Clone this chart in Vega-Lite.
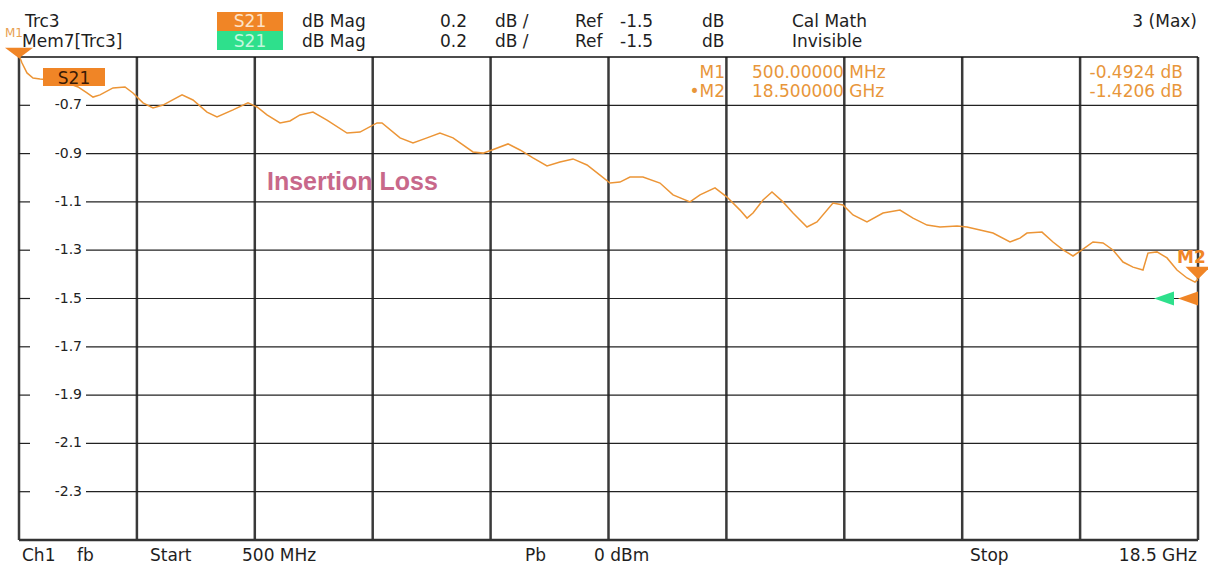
{
  "$schema": "https://vega.github.io/schema/vega-lite/v6.json",
  "width": 1179,
  "height": 483,
  "autosize": "none",
  "padding": {"left": 19, "top": 57, "right": 10, "bottom": 26},
  "background": "white",
  "config": {"view": {"stroke": null}, "axis": {"disable": true}, "font": "DejaVu Sans"},
  "data": {"values": [{}]},
  "layer": [
    {
      "data": {"values": [{"f": 0.5}, {"f": 2.3}, {"f": 4.1}, {"f": 5.9}, {"f": 7.7}, {"f": 9.5}, {"f": 11.3}, {"f": 13.1}, {"f": 14.9}, {"f": 16.7}, {"f": 18.5}]},
      "mark": {"type": "rule", "color": "#3a3a3a", "strokeWidth": 2.5},
      "encoding": {
        "x": {"field": "f", "type": "quantitative", "scale": {"domain": [0.5, 18.5], "nice": false, "zero": false}},
        "y": {"datum": -0.5, "scale": {"domain": [-2.5, -0.5], "nice": false, "zero": false}},
        "y2": {"datum": -2.5}
      }
    },
    {
      "data": {"values": [{"db": -0.7, "label": "-0.7"}, {"db": -0.9, "label": "-0.9"}, {"db": -1.1, "label": "-1.1"}, {"db": -1.3, "label": "-1.3"}, {"db": -1.5, "label": "-1.5"}, {"db": -1.7, "label": "-1.7"}, {"db": -1.9, "label": "-1.9"}, {"db": -2.1, "label": "-2.1"}, {"db": -2.3, "label": "-2.3"}]},
      "layer": [
        {"mark": {"type": "rule", "color": "#222222", "strokeWidth": 1.2}, "encoding": {"x": {"datum": 1.523}, "x2": {"datum": 18.5}, "y": {"field": "db", "type": "quantitative"}}},
        {"mark": {"type": "rule", "color": "#222222", "strokeWidth": 1.2}, "encoding": {"x": {"datum": 0.5}, "x2": {"datum": 0.668}, "y": {"field": "db", "type": "quantitative"}}},
        {"mark": {"type": "text", "align": "right", "baseline": "middle", "fontSize": 14, "color": "#222222"}, "encoding": {"x": {"datum": 1.462}, "y": {"field": "db", "type": "quantitative"}, "text": {"field": "label"}}}
      ]
    },
    {"mark": {"type": "rule", "color": "#111111", "strokeWidth": 1.3}, "encoding": {"x": {"datum": 0.5}, "x2": {"datum": 18.5}, "y": {"datum": -0.5}}},
    {"mark": {"type": "rule", "color": "#333333", "strokeWidth": 2.5}, "encoding": {"x": {"datum": 0.5}, "x2": {"datum": 18.5}, "y": {"datum": -2.5}}},
    {
      "data": {"values": [
        {"f": 0.5, "db": -0.4924}, {"f": 0.546, "db": -0.525}, {"f": 0.622, "db": -0.566}, {"f": 0.714, "db": -0.587}, {"f": 0.821, "db": -0.591},
        {"f": 0.973, "db": -0.595}, {"f": 1.202, "db": -0.604}, {"f": 1.401, "db": -0.624}, {"f": 1.538, "db": -0.649}, {"f": 1.63, "db": -0.666},
        {"f": 1.737, "db": -0.657}, {"f": 1.935, "db": -0.628}, {"f": 2.118, "db": -0.624}, {"f": 2.24, "db": -0.649}, {"f": 2.393, "db": -0.69},
        {"f": 2.546, "db": -0.711}, {"f": 2.698, "db": -0.699}, {"f": 2.989, "db": -0.657}, {"f": 3.156, "db": -0.678}, {"f": 3.37, "db": -0.728},
        {"f": 3.523, "db": -0.748}, {"f": 3.767, "db": -0.719}, {"f": 3.996, "db": -0.69}, {"f": 4.134, "db": -0.707}, {"f": 4.286, "db": -0.74},
        {"f": 4.485, "db": -0.773}, {"f": 4.637, "db": -0.765}, {"f": 4.79, "db": -0.74}, {"f": 4.988, "db": -0.728}, {"f": 5.202, "db": -0.761},
        {"f": 5.508, "db": -0.815}, {"f": 5.706, "db": -0.811}, {"f": 5.966, "db": -0.773}, {"f": 6.042, "db": -0.773}, {"f": 6.317, "db": -0.835},
        {"f": 6.515, "db": -0.856}, {"f": 6.729, "db": -0.835}, {"f": 6.927, "db": -0.815}, {"f": 7.126, "db": -0.835}, {"f": 7.431, "db": -0.893},
        {"f": 7.584, "db": -0.898}, {"f": 7.721, "db": -0.885}, {"f": 7.966, "db": -0.86}, {"f": 8.149, "db": -0.885}, {"f": 8.347, "db": -0.918},
        {"f": 8.561, "db": -0.951}, {"f": 8.759, "db": -0.935}, {"f": 8.958, "db": -0.922}, {"f": 9.172, "db": -0.947}, {"f": 9.37, "db": -0.989},
        {"f": 9.523, "db": -1.022}, {"f": 9.675, "db": -1.018}, {"f": 9.828, "db": -0.997}, {"f": 10.026, "db": -0.997}, {"f": 10.286, "db": -1.022},
        {"f": 10.485, "db": -1.071}, {"f": 10.744, "db": -1.1}, {"f": 10.897, "db": -1.071}, {"f": 11.126, "db": -1.042}, {"f": 11.309, "db": -1.08},
        {"f": 11.508, "db": -1.134}, {"f": 11.615, "db": -1.167}, {"f": 11.706, "db": -1.146}, {"f": 11.859, "db": -1.092}, {"f": 11.996, "db": -1.059},
        {"f": 12.164, "db": -1.1}, {"f": 12.317, "db": -1.146}, {"f": 12.53, "db": -1.204}, {"f": 12.683, "db": -1.183}, {"f": 12.927, "db": -1.105},
        {"f": 13.08, "db": -1.113}, {"f": 13.233, "db": -1.154}, {"f": 13.446, "db": -1.183}, {"f": 13.691, "db": -1.146}, {"f": 13.95, "db": -1.134},
        {"f": 14.149, "db": -1.167}, {"f": 14.363, "db": -1.196}, {"f": 14.561, "db": -1.204}, {"f": 14.821, "db": -1.2}, {"f": 14.973, "db": -1.204},
        {"f": 15.172, "db": -1.216}, {"f": 15.37, "db": -1.229}, {"f": 15.63, "db": -1.266}, {"f": 15.782, "db": -1.25}, {"f": 15.889, "db": -1.229},
        {"f": 16.118, "db": -1.225}, {"f": 16.286, "db": -1.266}, {"f": 16.439, "db": -1.299}, {"f": 16.592, "db": -1.324}, {"f": 16.729, "db": -1.299},
        {"f": 16.897, "db": -1.266}, {"f": 17.05, "db": -1.27}, {"f": 17.202, "db": -1.299}, {"f": 17.355, "db": -1.349}, {"f": 17.508, "db": -1.37},
        {"f": 17.66, "db": -1.382}, {"f": 17.736, "db": -1.312}, {"f": 17.874, "db": -1.307}, {"f": 18.027, "db": -1.332}, {"f": 18.179, "db": -1.382},
        {"f": 18.332, "db": -1.415}, {"f": 18.454, "db": -1.432}, {"f": 18.5, "db": -1.4206}
      ]},
      "mark": {"type": "line", "color": "#ec9536", "strokeWidth": 1.5},
      "encoding": {
        "x": {"field": "f", "type": "quantitative", "scale": {"domain": [0.5, 18.5], "nice": false, "zero": false}},
        "y": {"field": "db", "type": "quantitative", "scale": {"domain": [-2.5, -0.5], "nice": false, "zero": false}}
      }
    },
    {"mark": {"type": "rect", "color": "#f08526"}, "encoding": {"x": {"datum": 0.8664}, "x2": {"datum": 1.813}, "y": {"datum": -0.5455}, "y2": {"datum": -0.6201}}},
    {"mark": {"type": "text", "text": "S21", "align": "center", "baseline": "alphabetic", "fontSize": 17, "color": "#3a1a05"}, "encoding": {"x": {"datum": 1.3397}, "y": {"datum": -0.6118}}},
    {"mark": {"type": "rect", "color": "#f08526"}, "encoding": {"x": {"datum": 3.5229}, "x2": {"datum": 4.5305}, "y": {"datum": -0.3137}, "y2": {"datum": -0.3923}}},
    {"mark": {"type": "rect", "color": "#2ee08c"}, "encoding": {"x": {"datum": 3.5229}, "x2": {"datum": 4.5305}, "y": {"datum": -0.3923}, "y2": {"datum": -0.471}}},
    {"mark": {"type": "text", "text": "S21", "align": "center", "baseline": "alphabetic", "fontSize": 17, "color": "#fde3c8"}, "encoding": {"x": {"datum": 4.0267}, "y": {"datum": -0.3758}}},
    {"mark": {"type": "text", "text": "S21", "align": "center", "baseline": "alphabetic", "fontSize": 17, "color": "#c4f7dd"}, "encoding": {"x": {"datum": 4.0267}, "y": {"datum": -0.4586}}},
    {"mark": {"type": "text", "text": "M1", "align": "left", "baseline": "alphabetic", "fontSize": 12, "color": "#e8a050"}, "encoding": {"x": {"datum": 0.2863}, "y": {"datum": -0.4172}}},
    {"mark": {"type": "text", "text": "Trc3", "align": "left", "baseline": "alphabetic", "fontSize": 17, "color": "#1e1e1e"}, "encoding": {"x": {"datum": 0.5916}, "y": {"datum": -0.3758}}},
    {"mark": {"type": "text", "text": "Mem7[Trc3]", "align": "left", "baseline": "alphabetic", "fontSize": 17, "color": "#1e1e1e"}, "encoding": {"x": {"datum": 0.5458}, "y": {"datum": -0.4586}}},
    {
      "data": {"values": [{"row": -0.3758}, {"row": -0.4586}]},
      "layer": [
        {"mark": {"type": "text", "text": "dB Mag", "align": "left", "baseline": "alphabetic", "fontSize": 17, "color": "#1e1e1e"}, "encoding": {"x": {"datum": 4.8206}, "y": {"field": "row", "type": "quantitative"}}},
        {"mark": {"type": "text", "text": "0.2", "align": "left", "baseline": "alphabetic", "fontSize": 17, "color": "#1e1e1e"}, "encoding": {"x": {"datum": 6.9275}, "y": {"field": "row", "type": "quantitative"}}},
        {"mark": {"type": "text", "text": "dB /", "align": "left", "baseline": "alphabetic", "fontSize": 17, "color": "#1e1e1e"}, "encoding": {"x": {"datum": 7.7671}, "y": {"field": "row", "type": "quantitative"}}},
        {"mark": {"type": "text", "text": "Ref", "align": "left", "baseline": "alphabetic", "fontSize": 17, "color": "#1e1e1e"}, "encoding": {"x": {"datum": 8.9885}, "y": {"field": "row", "type": "quantitative"}}},
        {"mark": {"type": "text", "text": "-1.5", "align": "left", "baseline": "alphabetic", "fontSize": 17, "color": "#1e1e1e"}, "encoding": {"x": {"datum": 9.6755}, "y": {"field": "row", "type": "quantitative"}}},
        {"mark": {"type": "text", "text": "dB", "align": "left", "baseline": "alphabetic", "fontSize": 17, "color": "#1e1e1e"}, "encoding": {"x": {"datum": 10.9275}, "y": {"field": "row", "type": "quantitative"}}}
      ]
    },
    {"mark": {"type": "text", "text": "Cal Math", "align": "left", "baseline": "alphabetic", "fontSize": 17, "color": "#1e1e1e"}, "encoding": {"x": {"datum": 12.3015}, "y": {"datum": -0.3758}}},
    {"mark": {"type": "text", "text": "Invisible", "align": "left", "baseline": "alphabetic", "fontSize": 17, "color": "#1e1e1e"}, "encoding": {"x": {"datum": 12.3015}, "y": {"datum": -0.4586}}},
    {"mark": {"type": "text", "text": "3 (Max)", "align": "right", "baseline": "alphabetic", "fontSize": 17, "color": "#1e1e1e"}, "encoding": {"x": {"datum": 18.4847}, "y": {"datum": -0.3758}}},
    {"mark": {"type": "text", "text": "M1", "align": "right", "baseline": "alphabetic", "fontSize": 17, "color": "#e8963a"}, "encoding": {"x": {"datum": 11.2786}, "y": {"datum": -0.587}}},
    {"mark": {"type": "text", "text": "500.00000 MHz", "align": "left", "baseline": "alphabetic", "fontSize": 17, "color": "#e8963a"}, "encoding": {"x": {"datum": 11.6908}, "y": {"datum": -0.587}}},
    {"mark": {"type": "text", "text": "-0.4924 dB", "align": "right", "baseline": "alphabetic", "fontSize": 17, "color": "#e8963a"}, "encoding": {"x": {"datum": 18.2708}, "y": {"datum": -0.587}}},
    {"mark": {"type": "text", "text": "•M2", "align": "right", "baseline": "alphabetic", "fontSize": 17, "color": "#e8963a"}, "encoding": {"x": {"datum": 11.2786}, "y": {"datum": -0.6656}}},
    {"mark": {"type": "text", "text": "18.500000 GHz", "align": "left", "baseline": "alphabetic", "fontSize": 17, "color": "#e8963a"}, "encoding": {"x": {"datum": 11.6908}, "y": {"datum": -0.6656}}},
    {"mark": {"type": "text", "text": "-1.4206 dB", "align": "right", "baseline": "alphabetic", "fontSize": 17, "color": "#e8963a"}, "encoding": {"x": {"datum": 18.2708}, "y": {"datum": -0.6656}}},
    {"mark": {"type": "text", "text": "Insertion Loss", "align": "left", "baseline": "alphabetic", "fontSize": 25, "font": "Liberation Sans", "fontWeight": "bold", "color": "#c8688a"}, "encoding": {"x": {"datum": 4.2862}, "y": {"datum": -1.0507}}},
    {"mark": {"type": "point", "shape": "M-1,-0.37L1,-0.37L0,0.37Z", "filled": true, "size": 784, "color": "#f08526", "opacity": 1}, "encoding": {"x": {"datum": 0.5}, "y": {"datum": -0.4834}}},
    {"mark": {"type": "point", "shape": "M-1,-0.5L1,-0.5L0,0.5Z", "filled": true, "size": 625, "color": "#f08526", "opacity": 1}, "encoding": {"x": {"datum": 18.5}, "y": {"datum": -1.3944}}},
    {"mark": {"type": "text", "text": "M2", "align": "left", "baseline": "alphabetic", "fontSize": 17, "fontWeight": "bold", "color": "#f08526"}, "encoding": {"x": {"datum": 18.1794}, "y": {"datum": -1.353}}},
    {"mark": {"type": "point", "shape": "M-1,0L1,-0.7L1,0.7Z", "filled": true, "size": 400, "color": "#2ee08c", "opacity": 1}, "encoding": {"x": {"datum": 17.9809}, "y": {"datum": -1.5}}},
    {"mark": {"type": "point", "shape": "M-1,0L1,-0.7L1,0.7Z", "filled": true, "size": 400, "color": "#f08526", "opacity": 1}, "encoding": {"x": {"datum": 18.3473}, "y": {"datum": -1.5}}},
    {"mark": {"type": "text", "text": "Ch1", "align": "left", "baseline": "alphabetic", "fontSize": 17, "color": "#1e1e1e"}, "encoding": {"x": {"datum": 0.5458}, "y": {"datum": -2.587}}},
    {"mark": {"type": "text", "text": "fb", "align": "left", "baseline": "alphabetic", "fontSize": 17, "color": "#1e1e1e"}, "encoding": {"x": {"datum": 1.3855}, "y": {"datum": -2.587}}},
    {"mark": {"type": "text", "text": "Start", "align": "left", "baseline": "alphabetic", "fontSize": 17, "color": "#1e1e1e"}, "encoding": {"x": {"datum": 2.5}, "y": {"datum": -2.587}}},
    {"mark": {"type": "text", "text": "500 MHz", "align": "left", "baseline": "alphabetic", "fontSize": 17, "color": "#1e1e1e"}, "encoding": {"x": {"datum": 3.9046}, "y": {"datum": -2.587}}},
    {"mark": {"type": "text", "text": "Pb", "align": "left", "baseline": "alphabetic", "fontSize": 17, "color": "#1e1e1e"}, "encoding": {"x": {"datum": 8.2252}, "y": {"datum": -2.587}}},
    {"mark": {"type": "text", "text": "0 dBm", "align": "left", "baseline": "alphabetic", "fontSize": 17, "color": "#1e1e1e"}, "encoding": {"x": {"datum": 9.2786}, "y": {"datum": -2.587}}},
    {"mark": {"type": "text", "text": "Stop", "align": "left", "baseline": "alphabetic", "fontSize": 17, "color": "#1e1e1e"}, "encoding": {"x": {"datum": 15.019}, "y": {"datum": -2.587}}},
    {"mark": {"type": "text", "text": "18.5 GHz", "align": "right", "baseline": "alphabetic", "fontSize": 17, "color": "#1e1e1e"}, "encoding": {"x": {"datum": 18.4847}, "y": {"datum": -2.587}}}
  ]
}
